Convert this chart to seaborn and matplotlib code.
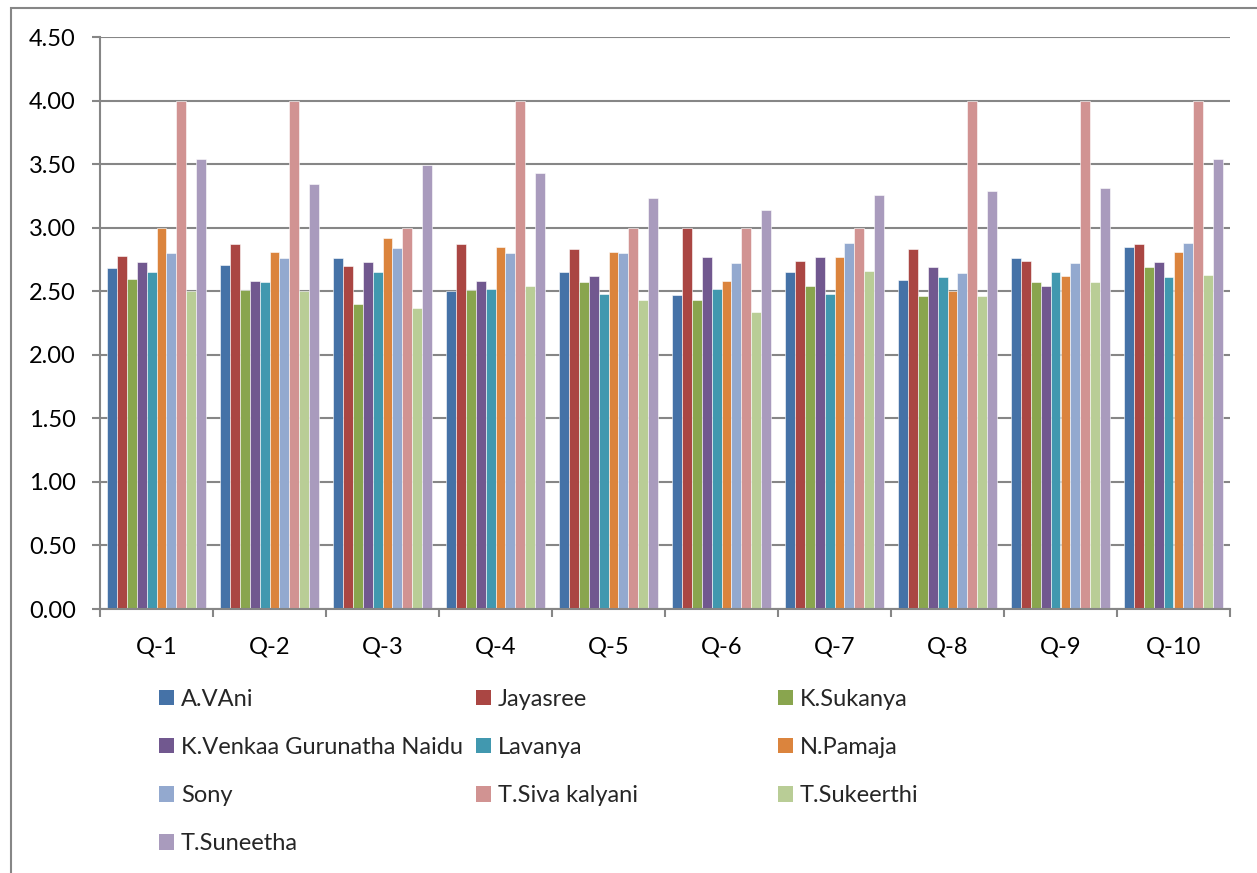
import matplotlib
matplotlib.use("Agg")
import matplotlib.pyplot as plt
import matplotlib.patches as mpatches
import pandas as pd
import seaborn as sns

# questions on the x axis
questions = ["Q-1", "Q-2", "Q-3", "Q-4", "Q-5", "Q-6", "Q-7", "Q-8", "Q-9", "Q-10"]

students = ["A.VAni", "Jayasree", "K.Sukanya", "K.Venkaa Gurunatha Naidu", "Lavanya",
            "N.Pamaja", "Sony", "T.Siva kalyani", "T.Sukeerthi", "T.Suneetha"]

# mean score per question, one list per student
a_vani = [2.68, 2.71, 2.76, 2.50, 2.65, 2.47, 2.65, 2.59, 2.76, 2.85]
jayasree = [2.78, 2.87, 2.70, 2.87, 2.83, 3.00, 2.74, 2.83, 2.74, 2.87]
k_sukanya = [2.60, 2.51, 2.40, 2.51, 2.57, 2.43, 2.54, 2.46, 2.57, 2.69]
k_venkaa = [2.73, 2.58, 2.73, 2.58, 2.62, 2.77, 2.77, 2.69, 2.54, 2.73]
lavanya = [2.65, 2.57, 2.65, 2.52, 2.48, 2.52, 2.48, 2.61, 2.65, 2.61]
n_pamaja = [3.00, 2.81, 2.92, 2.85, 2.81, 2.58, 2.77, 2.50, 2.62, 2.81]
sony = [2.80, 2.76, 2.84, 2.80, 2.80, 2.72, 2.88, 2.64, 2.72, 2.88]
t_siva = [4.00, 4.00, 3.00, 4.00, 3.00, 3.00, 3.00, 4.00, 4.00, 4.00]
t_sukeerthi = [2.50, 2.50, 2.37, 2.54, 2.43, 2.34, 2.66, 2.46, 2.57, 2.63]
t_suneetha = [3.54, 3.34, 3.49, 3.43, 3.23, 3.14, 3.26, 3.29, 3.31, 3.54]

series = [a_vani, jayasree, k_sukanya, k_venkaa, lavanya,
          n_pamaja, sony, t_siva, t_sukeerthi, t_suneetha]

colors = ["#4572A7", "#AA4643", "#89A54E", "#71588F", "#4198AF",
          "#DB843D", "#93A9CF", "#D19392", "#B9CD96", "#A99BBD"]

rows = []
for name, vals in zip(students, series):
    for q, v in zip(questions, vals):
        rows.append({"question": q, "student": name, "score": v})
df = pd.DataFrame(rows)

sns.set_style("white")
plt.rcParams["font.family"] = ["Lato", "DejaVu Sans"]

fig = plt.figure(figsize=(12.57, 8.73), dpi=100)
ax = fig.add_axes([100 / 1257, 1 - 609 / 873, (1230 - 100) / 1257, (609 - 37) / 873])

sns.barplot(data=df, x="question", y="score", hue="student", hue_order=students,
            order=questions, palette=colors, width=0.87, ax=ax, legend=False,
            edgecolor="white", linewidth=0.4, saturation=1)

grid_col = "#868686"
fs = 17
ax.set_ylim(0, 4.5)
ax.set_xlim(-0.5, 9.5)
ax.set_yticks([i * 0.5 for i in range(10)])
ax.set_yticklabels([f"{i * 0.5:.2f}" for i in range(10)])
ax.yaxis.grid(True, color=grid_col, linewidth=1.5)
ax.set_axisbelow(True)
ax.set_xlabel("")
ax.set_ylabel("")

for s in ["top", "right"]:
    ax.spines[s].set_visible(False)
for s in ["left", "bottom"]:
    ax.spines[s].set_color(grid_col)
    ax.spines[s].set_linewidth(1.5)

ax.tick_params(axis="y", which="major", left=True, length=5.5, width=1.5, color=grid_col,
               labelsize=fs, pad=12, labelcolor="black")
ax.tick_params(axis="x", which="major", bottom=False, labelsize=fs, pad=16, labelcolor="black")
ax.set_xticks([i - 0.5 for i in range(11)], minor=True)
ax.tick_params(axis="x", which="minor", bottom=True, length=6, width=1.5, color=grid_col)

# legend laid out in three columns, row-major like the original
col_x = [160, 477, 779]
for c in range(3):
    idx = list(range(c, len(students), 3))
    handles = [mpatches.Patch(facecolor=colors[i], edgecolor="none", label=students[i]) for i in idx]
    fig.legend(handles=handles, loc="upper left",
               bbox_to_anchor=((col_x[c] - 1) / 1257, 1 - 689 / 873),
               frameon=False, fontsize=fs, handlelength=0.62, handleheight=0.62,
               handletextpad=0.3, labelspacing=1.15, borderpad=0, borderaxespad=0)

# outer chart border
fig.patches.append(mpatches.Rectangle((11 / 1257, -0.1), 1.2, 1 - 8 / 873 + 0.1,
                                      transform=fig.transFigure, fill=False,
                                      edgecolor=grid_col, linewidth=1.5))

fig.savefig("out.png", dpi=100)
